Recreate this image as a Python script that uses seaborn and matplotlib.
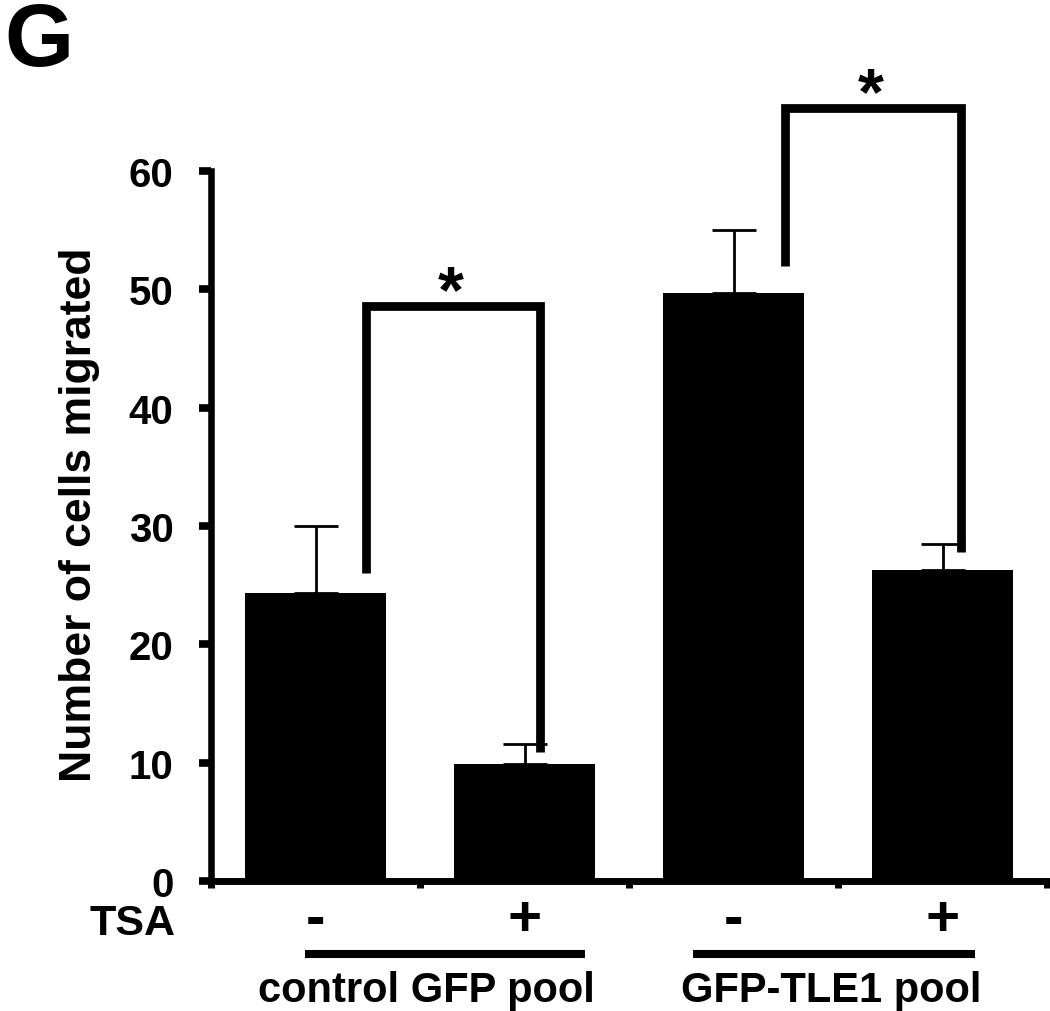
import pandas as pd
import seaborn as sns
import matplotlib.pyplot as plt
import matplotlib.transforms as mtransforms
import numpy as np

# values
groups = ['control GFP pool', 'control GFP pool', 'GFP-TLE1 pool', 'GFP-TLE1 pool']
tsa = ['-', '+', '-', '+']
cells = [24.3, 9.9, 49.7, 26.3]
err = [5.7, 1.7, 5.3, 2.2]
yticks = [0, 10, 20, 30, 40, 50, 60]

# significance brackets: (left bar, right bar, height of bracket)
brackets = [(0, 1, 48.6), (2, 3, 65.3)]
leg_gap = [1.7, 1.0, 2.3, 1.5]

data = pd.DataFrame({'group': groups, 'tsa': tsa, 'cells': cells, 'err': err})
data['cond'] = data['group'] + ' ' + data['tsa']

sns.set_style('white')
plt.rcParams['font.family'] = ['Liberation Sans', 'DejaVu Sans']
plt.rcParams['font.weight'] = 'bold'
for k in ['text.color', 'axes.labelcolor', 'xtick.color', 'ytick.color', 'axes.edgecolor']:
    plt.rcParams[k] = 'black'

fig = plt.figure(figsize=(10.5, 10.12), dpi=100)
ax = fig.add_axes([211 / 1050, 1 - 882 / 1012, 836 / 1050, 710 / 1012])

sns.barplot(data, x='cond', y='cells', order=list(data['cond']), color='black',
            saturation=1, width=0.675, errorbar=None, linewidth=0, ax=ax)

# upper-only error bars
xs = np.arange(len(cells))
ax.errorbar(xs, data['cells'], yerr=[np.zeros(len(err)), data['err']], fmt='none',
            ecolor='black', elinewidth=2, capsize=16, capthick=2, clip_on=False)

ax.set_xlim(-0.5, len(cells) - 0.5)
ax.set_ylim(0, 60)
ax.set_yticks(yticks)
ax.set_yticklabels([str(t) for t in yticks], fontsize=29, fontweight='bold')
ax.tick_params(axis='y', direction='out', length=9, width=5.5, pad=18, left=True)

ax.set_xticks(xs)
ax.set_xticklabels(tsa, fontsize=42, fontweight='bold')
ax.tick_params(axis='x', which='major', length=0, pad=9)
ax.set_xticks(np.arange(len(cells) + 1) - 0.5, minor=True)
ax.tick_params(axis='x', which='minor', direction='out', length=5, width=5, bottom=True)
ax.set_xlabel('')

for s in ['top', 'right']:
    ax.spines[s].set_visible(False)
ax.spines['left'].set_linewidth(4.7)
ax.spines['bottom'].set_linewidth(5)

ax.set_ylabel('Number of cells migrated', fontsize=32, fontweight='bold')
ax.yaxis.set_label_coords(-0.133, 0.517)

# brackets with stars
leg_dx = {0: 0.24, 1: 0.074, 2: 0.246, 3: 0.089}
for a, b, top in brackets:
    xa, xb = a + leg_dx[a], b + leg_dx[b]
    ya, yb = cells[a] + leg_gap[a], cells[b] + leg_gap[b]
    ax.plot([xa, xa, xb, xb], [ya, top, top, yb], color='black', lw=6.3,
            solid_joinstyle='miter', solid_capstyle='butt', clip_on=False)
    ax.text((xa + xb) / 2 - 0.01, top - 0.4, '*', ha='center', va='baseline',
            fontsize=48, fontweight='bold', clip_on=False)

# group underlines and labels
trans = mtransforms.blended_transform_factory(ax.transData, ax.transAxes)
for g, (x0, x1) in zip(['control GFP pool', 'GFP-TLE1 pool'], [(-0.05, 1.29), (1.806, 3.155)]):
    ax.plot([x0, x1], [-0.103, -0.103], transform=trans, color='black', lw=5.8,
            solid_capstyle='butt', clip_on=False)
ax.text(0.529, -0.154, 'control GFP pool', transform=trans, ha='center', va='center',
        fontsize=30, fontweight='bold')
ax.text(2.467, -0.154, 'GFP-TLE1 pool', transform=trans, ha='center', va='center',
        fontsize=30, fontweight='bold')

fig.text(175 / 1050, 1 - 904 / 1012, 'TSA', ha='right', va='top', fontsize=31, fontweight='bold')
fig.text(4 / 1050, 1 - 66 / 1012, 'G', ha='left', va='baseline', fontsize=64, fontweight='bold')

fig.savefig('out.png', dpi=100)
